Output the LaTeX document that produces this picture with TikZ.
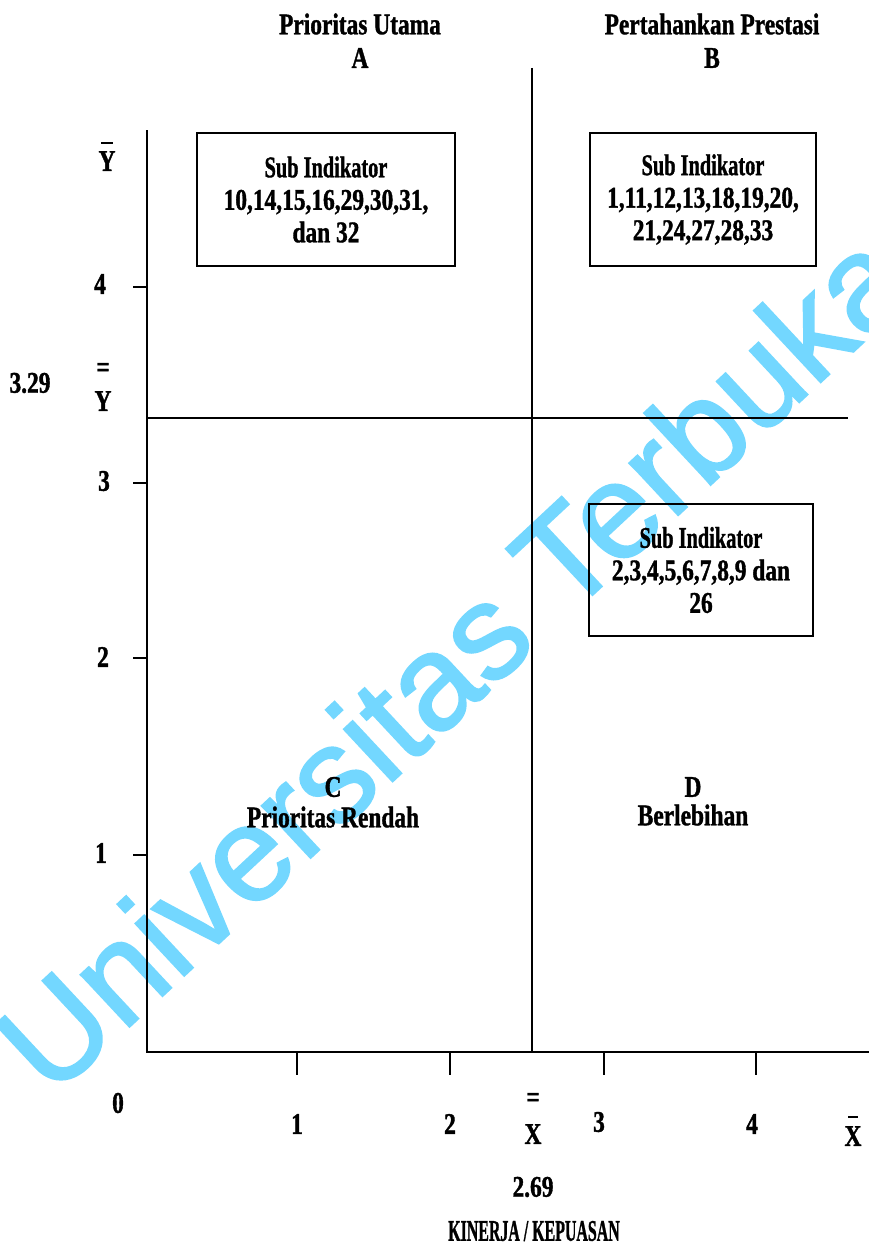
\documentclass[tikz,border=0pt]{standalone}
\usepackage{fontspec}
\newfontfamily\lbl{Liberation Serif}[FakeStretch=0.78,FakeBold=1.2]
\newfontfamily\wmfont{Liberation Sans}[FakeBold=1.5]
\definecolor{wmblue}{RGB}{115,215,255}
\begin{document}
\begin{tikzpicture}[x=1pt,y=-1pt,
  lab/.style={font=\lbl\bfseries\fontsize{30}{32}\selectfont, inner sep=0pt},
  subbox/.style={draw, line width=2pt, minimum width=#1, align=center, font=\lbl\bfseries\fontsize{30}{32.5}\selectfont, inner sep=0pt},
  axisline/.style={line width=2.6pt},
  divline/.style={line width=2.2pt},
  tick/.style={line width=2pt},
  barmark/.style={inner sep=0pt, minimum width=#1, minimum height=2.6pt, fill=black}]
\useasboundingbox (0,0) rectangle (869,1247);
% watermark (behind)
\node[text=wmblue, font=\wmfont\fontsize{135}{135}\selectfont, rotate=43, inner sep=0pt, anchor=center] (wm) at (452,660) {Universitas Terbuka};
% axes corners
\coordinate (ytop) at (147,130);
\coordinate (origin) at (147,1052);
\coordinate (xend) at (869,1052);
\coordinate (vtop) at (532,68);
\coordinate (vbot) at (532,1052);
\coordinate (hleft) at (147,418);
\coordinate (hright) at (848,418);
\draw[axisline] (ytop) -- (origin) -- (xend);
\draw[divline] (vtop) -- (vbot);
\draw[divline] (hleft) -- (hright);
% y ticks
\foreach \yy/\nm in {287/y4,483/y3,658/y2,855/y1}{
  \coordinate (\nm a) at (133,\yy);
  \coordinate (\nm b) at (147,\yy);
  \draw[tick] (\nm a) -- (\nm b);
}
% x ticks
\foreach \xx/\nm in {297/x1,450/x2,604/x3,756/x4}{
  \coordinate (\nm a) at (\xx,1052);
  \coordinate (\nm b) at (\xx,1075);
  \draw[tick] (\nm a) -- (\nm b);
}
% headings
\node[lab] (pu) at (360,24) {Prioritas Utama};
\node[lab] (qa) at (360,58) {A};
\node[lab] (pp) at (712,24) {Pertahankan Prestasi};
\node[lab] (qb) at (712,58) {B};
\node[lab] (qc) at (333,787) {C};
\node[lab] (pr) at (333,817) {Prioritas Rendah};
\node[lab] (qd) at (693,787) {D};
\node[lab] (bl) at (693,815) {Berlebihan};
% boxes
\node[subbox=258pt, minimum height=133pt] (boxa) at (326,199.5) {\scalebox{0.87}[1]{Sub Indikator}\\10,14,15,16,29,30,31,\\dan 32};
\node[subbox=226pt, minimum height=133pt] (boxb) at (703,199.5) {\scalebox{0.87}[1]{Sub Indikator}\\1,11,12,13,18,19,20,\\21,24,27,28,33};
\node[subbox=224pt, minimum height=132pt] (boxc) at (701,570) {\scalebox{0.87}[1]{Sub Indikator}\\2,3,4,5,6,7,8,9 dan\\26};
% y axis labels
\node[barmark=12pt] (ybarb) at (107,143) {};
\node[lab] (ybar) at (107,161) {Y};
\node[lab] (l4) at (100,284) {4};
\node[lab] (l329) at (30,383) {3.29};
\node[lab] (yeq) at (103,370) {=};
\node[lab] (ybb) at (103,401) {Y};
\node[lab] (l3) at (104,481) {3};
\node[lab] (l2) at (103,657) {2};
\node[lab] (l1) at (101,853) {1};
\node[lab] (l0) at (118,1103) {0};
% x axis labels
\node[lab] (m1) at (297,1124) {1};
\node[lab] (m2) at (450,1124) {2};
\node[lab] (xeq) at (533,1100) {=};
\node[lab] (xbb) at (533,1134) {X};
\node[lab] (m3) at (599,1122) {3};
\node[lab] (m4) at (752,1124) {4};
\node[barmark=10pt] (xbarb) at (853,1117) {};
\node[lab] (xbar) at (853,1136) {X};
\node[lab] (v269) at (533,1187) {2.69};
\node[lab] (ktitle) at (534,1231) {\scalebox{0.68}[1]{KINERJA / KEPUASAN}};
\end{tikzpicture}
\end{document}
